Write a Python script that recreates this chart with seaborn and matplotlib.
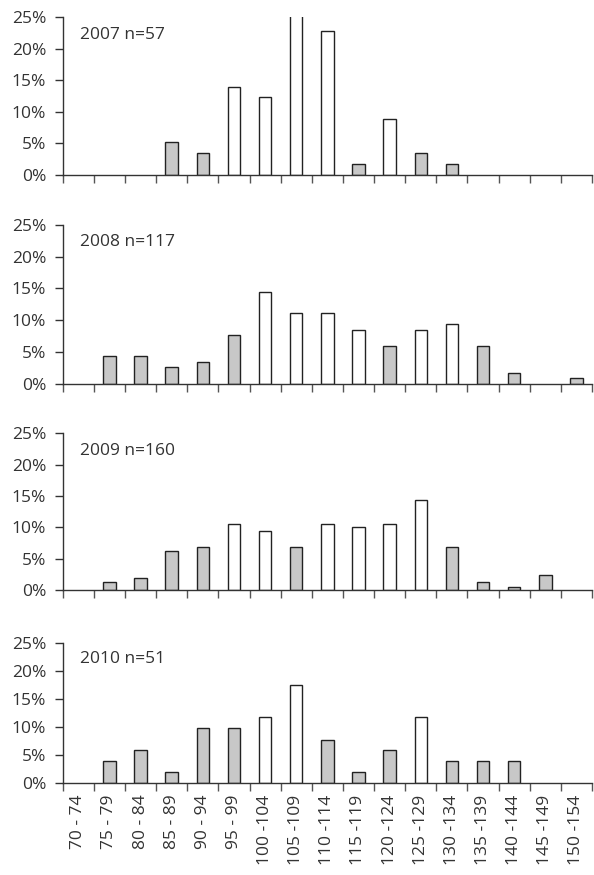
import numpy as np
import pandas as pd
import matplotlib
matplotlib.use('Agg')
import matplotlib.pyplot as plt
import seaborn as sns
from matplotlib.ticker import PercentFormatter, FixedLocator

# size bands (x categories)
bands = ['70 - 74', '75 - 79', '80 - 84', '85 - 89', '90 - 94', '95 - 99',
         '100 -104', '105 -109', '110 -114', '115 -119', '120 -124', '125 -129',
         '130 -134', '135 -139', '140 -144', '145 -149', '150 -154']

titles = ['2007 n=57', '2008 n=117', '2009 n=160', '2010 n=51']

# share of the year's total, in percent
pct_2007 = [0, 0, 0, 5.3, 3.5, 14.0, 12.3, 26.3, 22.8, 1.8, 8.8, 3.5, 1.8, 0, 0, 0, 0]
pct_2008 = [0, 4.3, 4.3, 2.6, 3.4, 7.7, 14.5, 11.1, 11.1, 8.5, 6.0, 8.5, 9.4, 6.0, 1.7, 0, 0.9]
pct_2009 = [0, 1.3, 1.9, 6.3, 6.9, 10.6, 9.4, 6.9, 10.6, 10.0, 10.6, 14.4, 6.9, 1.3, 0.6, 2.5, 0]
pct_2010 = [0, 3.9, 5.9, 2.0, 9.8, 9.8, 11.8, 17.6, 7.8, 2.0, 5.9, 11.8, 3.9, 3.9, 3.9, 0, 0]

# bar fill: g = grey, w = white
fill_2007 = list('gggggwwwwgwgggggg')
fill_2008 = list('ggggggwwwwgwwgggg')
fill_2009 = list('gggggwwgwwwwggggg')
fill_2010 = list('ggggggwwgggwggggg')

series = [pct_2007, pct_2008, pct_2009, pct_2010]
fills = [fill_2007, fill_2008, fill_2009, fill_2010]

sns.set_style('white')
plt.rcParams['font.family'] = ['Open Sans', 'DejaVu Sans']

fig = plt.figure(figsize=(5.94, 8.75), dpi=100)

# axes boxes [left, bottom, width, height] in figure fractions
boxes = [[0.1056, 0.800, 0.891, 0.1802],
         [0.1056, 0.5615, 0.891, 0.1814],
         [0.1056, 0.3254, 0.891, 0.1794],
         [0.1056, 0.1048, 0.891, 0.1600]]

palette_ = {'g': '#c8c8c8', 'w': '#ffffff'}
ink = '#333333'

for i, (vals, fl, title_) in enumerate(zip(series, fills, titles)):
    ax = fig.add_axes(boxes[i])
    df_ = pd.DataFrame({'band': bands, 'pct': np.array(vals) / 100.0, 'fill': fl})
    sns.barplot(data=df_, x='band', y='pct', hue='fill', palette=palette_,
                dodge=False, width=0.4, edgecolor='#222222', linewidth=1.0,
                legend=False, ax=ax, order=bands, hue_order=['g', 'w'])
    # empty bands: no outline stub on the axis
    for p in ax.patches:
        if p.get_height() == 0:
            p.set_linewidth(0)
    ax.set_xlim(-0.5, len(bands) - 0.5)
    ax.set_ylim(0, 0.25)
    ax.set_yticks(np.arange(0, 0.2501, 0.05))
    ax.yaxis.set_major_formatter(PercentFormatter(1.0, decimals=0))
    ax.set_xlabel('')
    ax.set_ylabel('')
    for s in ['top', 'right']:
        ax.spines[s].set_visible(False)
    for s in ['left', 'bottom']:
        ax.spines[s].set_color(ink)
        ax.spines[s].set_linewidth(1.0)
    ax.tick_params(axis='y', left=True, length=6, width=1, color=ink,
                   labelsize=12.5, labelcolor=ink, pad=6)
    ax.xaxis.set_minor_locator(FixedLocator(np.arange(-0.5, len(bands), 1.0)))
    ax.tick_params(axis='x', which='minor', bottom=True, length=6, width=1, color='#555555')
    ax.tick_params(axis='x', which='major', bottom=False, length=0, pad=8,
                   labelsize=12.5, labelcolor=ink)
    if i < 3:
        ax.set_xticklabels([])
    else:
        ax.set_xticks(range(len(bands)))
        ax.set_xticklabels(bands, rotation=90)
    ax.text(0.033, 0.89, title_, transform=ax.transAxes, fontsize=12.5,
            color=ink, va='center', ha='left')

fig.savefig('out.png', dpi=100)
